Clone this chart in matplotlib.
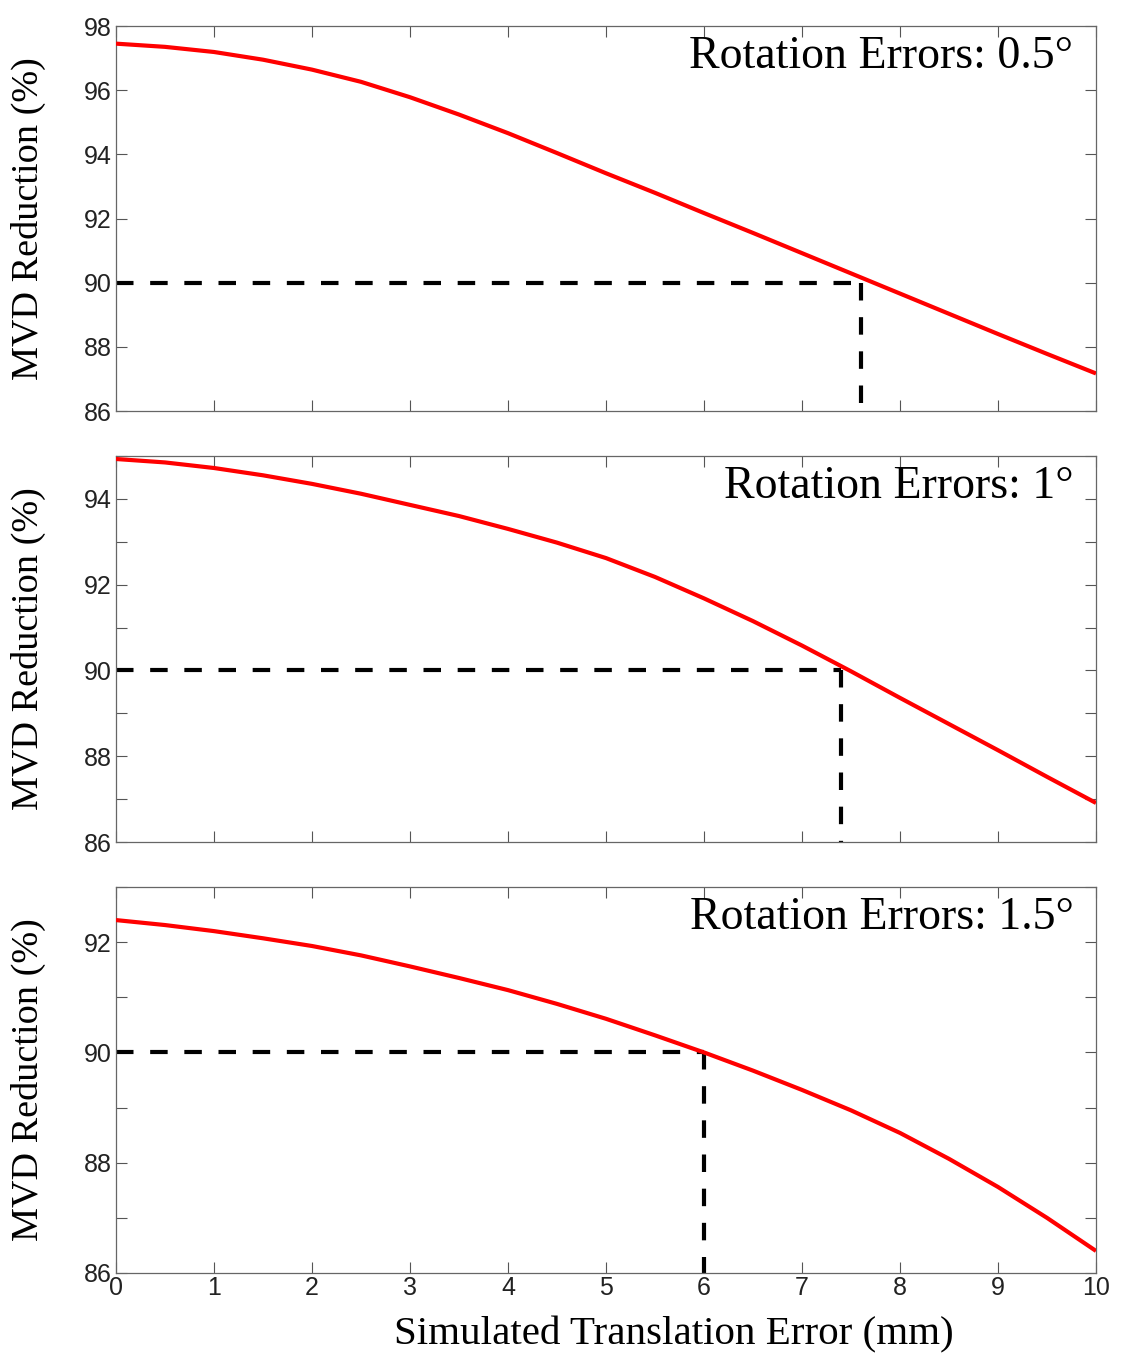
"""MVD reduction vs simulated translation error, three rotation error levels
"""

import matplotlib
matplotlib.use('Agg')
import matplotlib.pyplot as plt
from matplotlib.ticker import MultipleLocator

# data
x_err  = [0, 0.5, 1, 1.5, 2, 2.5, 3, 3.5, 4, 4.5, 5,
          5.5, 6, 6.5, 7, 7.5, 8, 8.5, 9, 9.5, 10]
mvd_05 = [97.45, 97.35, 97.19, 96.95, 96.64, 96.26, 95.78, 95.24, 94.66, 94.04, 93.41,
          92.80, 92.17, 91.55, 90.92, 90.29, 89.66, 89.03, 88.40, 87.78, 87.17]
mvd_10 = [94.93, 94.85, 94.72, 94.55, 94.35, 94.12, 93.86, 93.60, 93.30, 92.98, 92.62,
          92.18, 91.68, 91.15, 90.58, 89.98, 89.36, 88.75, 88.14, 87.52, 86.91]
mvd_15 = [92.40, 92.31, 92.20, 92.07, 91.93, 91.76, 91.56, 91.35, 91.13, 90.88, 90.61,
          90.31, 90.00, 89.67, 89.32, 88.95, 88.54, 88.07, 87.56, 87.00, 86.40]

labels    = ['Rotation Errors: 0.5°', 'Rotation Errors: 1°', 'Rotation Errors: 1.5°']
cross_x   = [7.6, 7.4, 6.0]
threshold = 90
y_lims    = [(86, 98), (86, 95), (86, 93)]

serif = ['Liberation Serif', 'DejaVu Serif']
sans  = ['Liberation Sans', 'DejaVu Sans']

fig = plt.figure(figsize=(11.23, 13.57), dpi=100)
W, H = 1123.0, 1357.0
boxes = [(26, 411), (456, 842), (887, 1273)]

series = [mvd_05, mvd_10, mvd_15]

for i, (top, bot) in enumerate(boxes):
  ax = fig.add_axes([116 / W, 1 - bot / H, 980 / W, (bot - top) / H])
  ax.plot(x_err, series[i], color='red', lw=3, solid_capstyle='butt', zorder=3)

  # 90% guide lines
  xc = cross_x[i]
  ax.plot([0, xc], [threshold, threshold], color='black', lw=3,
          linestyle=(0, (4.2, 4.0)), zorder=2)
  ax.plot([xc, xc], [threshold, y_lims[i][0]], color='black', lw=3,
          linestyle=(0, (4.2, 4.0)), zorder=2)

  ax.set_xlim(0, 10)
  ax.set_ylim(*y_lims[i])
  ax.xaxis.set_major_locator(MultipleLocator(1))
  ax.yaxis.set_major_locator(MultipleLocator(2))
  if i > 0:
    ax.yaxis.set_minor_locator(MultipleLocator(1))

  ax.tick_params(which='both', direction='in', top=True, right=True,
                 length=8, width=0.8, color='#555555')
  ax.tick_params(axis='y', labelsize=18, pad=3)
  ax.tick_params(axis='x', labelsize=18, pad=2)
  for lab in ax.get_xticklabels() + ax.get_yticklabels():
    lab.set_family(sans)
    lab.set_color('#222222')
  if i < 2:
    ax.tick_params(axis='x', labelbottom=False)
  for sp in ax.spines.values():
    sp.set_color('#666666')
    sp.set_linewidth(0.9)

  ax.set_ylabel('MVD Reduction (%)', family=serif, fontsize=27.5)
  ax.yaxis.set_label_coords(-0.071, 0.5)

  ax.text(0.977, 0.975, labels[i], transform=ax.transAxes, ha='right',
          va='top', family=serif, fontsize=33)

fig.text(674 / W, 1 - 1335 / H, 'Simulated Translation Error (mm)',
         ha='center', va='center', family=serif, fontsize=29.5)

fig.savefig('out.png', dpi=100)
